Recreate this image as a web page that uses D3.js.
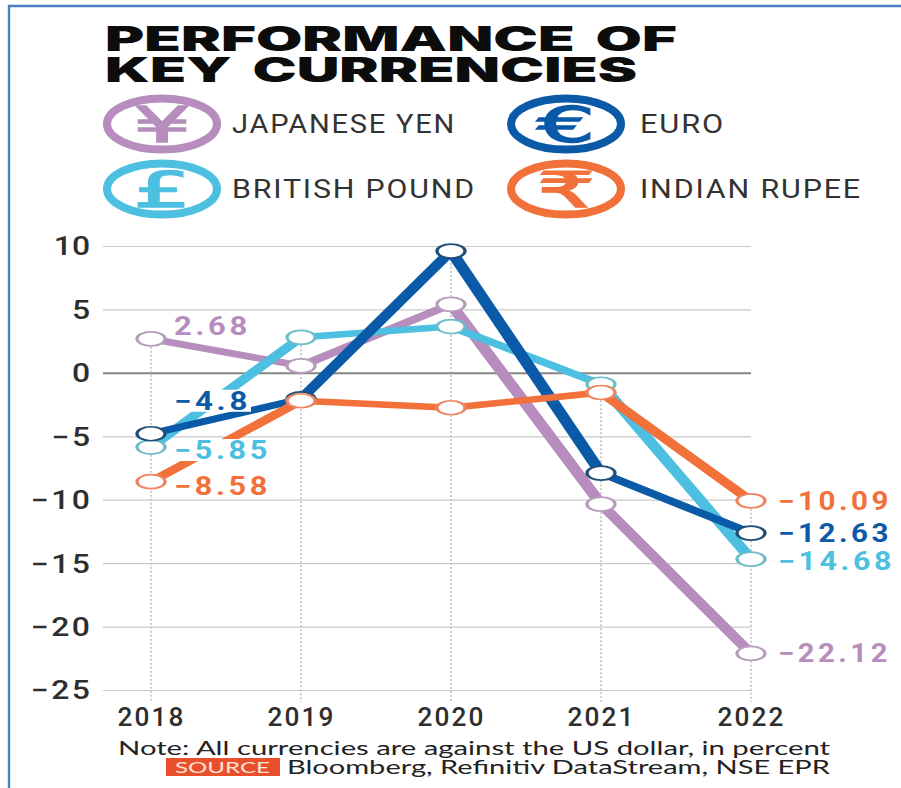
<!DOCTYPE html>
<html>
<head>
<meta charset="utf-8">
<style>
html,body{margin:0;padding:0;background:#fff}
svg{display:block}
</style>
<script src="https://cdn.jsdelivr.net/npm/d3@7/dist/d3.min.js"></script>
</head>
<body>
<svg id="chart" width="901" height="788"></svg>
<script>
// Annual performance against the US dollar, in percent
const years = ["2018", "2019", "2020", "2021", "2022"];
const yenValues = [2.68, 0.55, 5.4, -10.35, -22.12];
const poundValues = [-5.85, 2.8, 3.65, -0.9, -14.68];
const euroValues = [-4.8, -2.05, 9.6, -7.9, -12.63];
const rupeeValues = [-8.58, -2.2, -2.75, -1.55, -10.09];
const yTicks = [10, 5, 0, -5, -10, -15, -20, -25];
const titleLines = ["PERFORMANCE OF", "KEY CURRENCIES"];
const noteText = "Note: All currencies are against the US dollar, in percent";
const sourceText = "Bloomberg, Refinitiv DataStream, NSE EPR";

const colors = {yen: "#b68dbd", pound: "#4dbfe0", euro: "#0a5aa8", rupee: "#f2703a"};
const markerStroke = {yen: "#b79cbc", pound: "#6fbcc9", euro: "#1f4f78", rupee: "#ee8560"};

// Paint order runs bottom to top
const series = [
  {key: "yen", name: "JAPANESE YEN", symbol: "¥", values: yenValues},
  {key: "pound", name: "BRITISH POUND", symbol: "£", values: poundValues},
  {key: "euro", name: "EURO", symbol: "€", values: euroValues},
  {key: "rupee", name: "INDIAN RUPEE", symbol: "₹", values: rupeeValues}
];

const svg = d3.select("#chart");
const bodyFont = "Roboto, 'Liberation Sans', sans-serif";

// Places a text so that it spans exactly the given width
function fitText(g, str, x, baseline, width, size, opts = {}) {
  return g.append("text")
    .attr("x", x).attr("y", baseline)
    .attr("textLength", width).attr("lengthAdjust", "spacingAndGlyphs")
    .attr("font-family", opts.family || bodyFont)
    .attr("font-size", size)
    .attr("font-weight", opts.weight || 400)
    .attr("letter-spacing", opts.spacing || 0)
    .attr("word-spacing", opts.words || 0)
    .attr("fill", opts.fill || "#333")
    .text(str);
}

// Page frame
svg.append("path").attr("d", "M9,788V6H901").attr("fill", "none")
  .attr("stroke", "#4a7fc4").attr("stroke-width", 2.4);

// Title
const titleG = svg.append("g");
fitText(titleG, titleLines[0], 105, 51, 572, 33.5, {family: "Inter", weight: 900, fill: "#0c0c0c", words: 5});
fitText(titleG, titleLines[1], 105, 82, 532, 33.5, {family: "Inter", weight: 900, fill: "#0c0c0c", words: 5});

// Legend
const legendLayout = {
  yen: {cx: 162, cy: 124, tx: 232, tw: 224},
  pound: {cx: 162, cy: 189, tx: 232, tw: 244},
  euro: {cx: 566, cy: 124, tx: 640, tw: 85},
  rupee: {cx: 566, cy: 189, tx: 640, tw: 222}
};
const legendG = svg.append("g");
series.forEach(s => {
  const l = legendLayout[s.key];
  legendG.append("ellipse")
    .attr("cx", l.cx).attr("cy", l.cy).attr("rx", 55).attr("ry", 25.5)
    .attr("fill", "#fff").attr("stroke", colors[s.key]).attr("stroke-width", 8);
  legendG.append("text")
    .attr("transform", `translate(${l.cx},${l.cy + 18}) scale(1.85,1)`)
    .attr("text-anchor", "middle")
    .attr("font-family", "'DejaVu Sans', 'Noto Sans', sans-serif")
    .attr("font-weight", 400).attr("font-size", 49)
    .attr("fill", colors[s.key]).attr("stroke", colors[s.key]).attr("stroke-width", 1.6)
    .text(s.symbol);
  fitText(legendG, s.name, l.tx, l.cy + 9, l.tw, 25, {spacing: 1.5});
});

// Scales
const x = d3.scalePoint().domain(years).range([151, 751]);
const y = d3.scaleLinear().domain([10, -25]).range([246, 690]);

// Horizontal gridlines and value axis
const tickStretch = 1.25;
const yAxis = svg.append("g").attr("transform", "translate(751,0)")
  .call(d3.axisLeft(y).tickValues(yTicks).tickSize(648));
yAxis.select(".domain").remove();
yAxis.selectAll(".tick line")
  .attr("stroke", d => d === 0 ? "#858585" : "#c9c9c9")
  .attr("stroke-width", d => d === 0 ? 2 : 1.2);
yAxis.selectAll(".tick text")
  .attr("font-family", bodyFont).attr("font-size", 25.5).attr("font-weight", 500)
  .attr("fill", "#2e2e2e")
  .attr("letter-spacing", d => d < 0 ? 2 : 0)
  .attr("x", d => (-661 + (d < 0 ? 2.5 : 0)) / tickStretch)
  .attr("dy", "0.35em")
  .attr("transform", `scale(${tickStretch},1)`);

// Dotted year guides, starting at the highest reading of that year
const topByYear = years.map((_, i) => d3.max(series, s => s.values[i]));
svg.append("g").selectAll("line").data(years).join("line")
  .attr("x1", d => x(d)).attr("x2", d => x(d))
  .attr("y1", (d, i) => y(topByYear[i])).attr("y2", 702)
  .attr("stroke", "#c4c4c4").attr("stroke-width", 1.6).attr("stroke-dasharray", "2 2");

// Year labels
const xAxis = svg.append("g").attr("transform", "translate(0,726)")
  .call(d3.axisBottom(x).tickSize(0).tickPadding(0));
xAxis.select(".domain").remove();
xAxis.selectAll(".tick text")
  .attr("font-family", bodyFont).attr("font-size", 25).attr("font-weight", 500)
  .attr("fill", "#2e2e2e").attr("dy", 0).attr("y", 0).attr("x", 0)
  .attr("letter-spacing", 2)
  .attr("textLength", 68).attr("lengthAdjust", "spacingAndGlyphs");

// Lines and markers sit in a group widened along x, so the strokes thicken on
// steep segments and the round markers turn oval
const widen = 2;
const plot = svg.append("g").attr("transform", `scale(${widen},1)`);
const line = d3.line().x((d, i) => x(years[i]) / widen).y(d => y(d));
series.forEach(s => {
  plot.append("path").datum(s.values).attr("d", line)
    .attr("fill", "none").attr("stroke", colors[s.key]).attr("stroke-width", 6.5)
    .attr("stroke-linejoin", "round");
});
series.forEach(s => {
  plot.append("g").selectAll("circle").data(s.values).join("circle")
    .attr("cx", (d, i) => x(years[i]) / widen).attr("cy", d => y(d)).attr("r", 7)
    .attr("fill", "#fff").attr("stroke", markerStroke[s.key]).attr("stroke-width", 1.7);
});

// End-point value labels, each knocked out of the lines behind it
const labelLayout = [
  {key: "yen", i: 0, x: 174, w: 77, up: 4},
  {key: "euro", i: 0, x: 174, w: 77, up: 24},
  {key: "pound", i: 0, x: 174, w: 97, down: 12},
  {key: "rupee", i: 0, x: 174, w: 97, down: 13},
  {key: "rupee", i: 4, x: 778, w: 114, down: 9},
  {key: "euro", i: 4, x: 778, w: 114, down: 9},
  {key: "pound", i: 4, x: 778, w: 117, down: 11},
  {key: "yen", i: 4, x: 778, w: 113, down: 9}
];
const labelG = svg.append("g");
labelLayout.forEach(l => {
  const s = series.find(e => e.key === l.key);
  const v = s.values[l.i];
  const base = y(v) + (l.down || 0) - (l.up || 0);
  labelG.append("rect")
    .attr("x", l.x).attr("y", base - 20).attr("width", l.w).attr("height", 22)
    .attr("fill", "#fff");
  fitText(labelG, String(v).replace("-", "−"), l.x, base, l.w, 25,
    {weight: 700, fill: colors[l.key], spacing: 3});
});

// Footer
const footG = svg.append("g");
fitText(footG, noteText, 118, 755, 712, 19.5, {family: "Lato", fill: "#222"});
footG.append("rect").attr("x", 166).attr("y", 758).attr("width", 114).attr("height", 18).attr("fill", "#ea4f2c");
fitText(footG, "SOURCE", 175, 773, 95, 15, {family: "Lato", fill: "#fbe3d8"});
fitText(footG, sourceText, 287, 774, 543, 19.5, {family: "Lato", fill: "#222"});
</script>
</body>
</html>
